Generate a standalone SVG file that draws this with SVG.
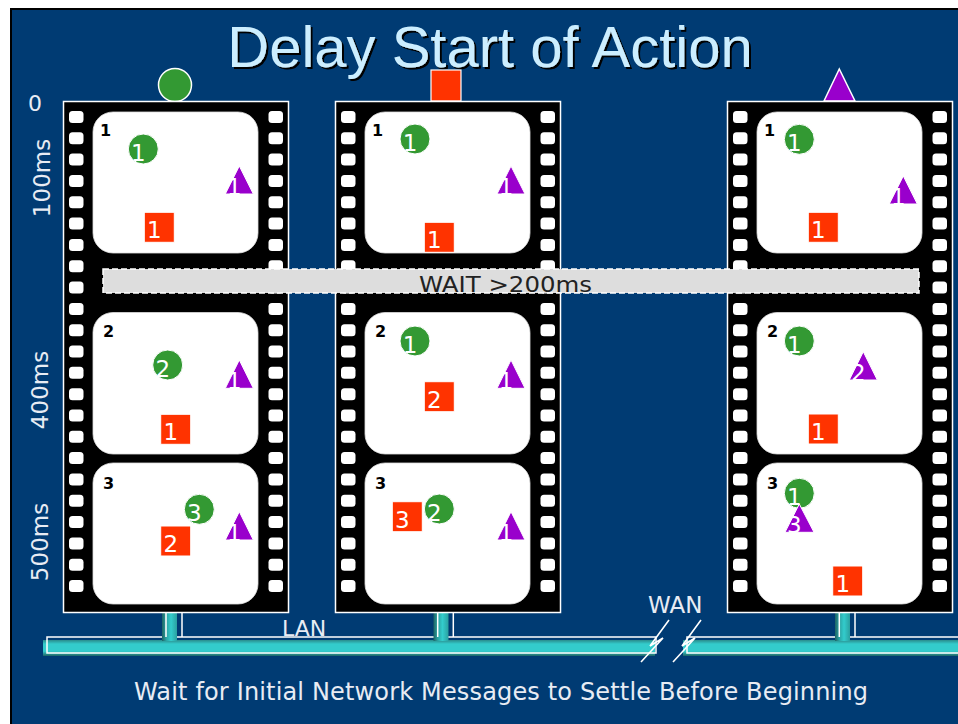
<svg xmlns="http://www.w3.org/2000/svg" xmlns:xlink="http://www.w3.org/1999/xlink" width="958" height="724" viewBox="0 0 958 724">
<style>
.lbl{font-family:"DejaVu Sans","Liberation Sans",sans-serif;fill:#E8ECF4}
.fl{font-family:"DejaVu Sans","Liberation Sans",sans-serif;font-weight:bold;font-size:16px;fill:#000}
.d{font-family:"DejaVu Sans","Liberation Sans",sans-serif;font-size:23px;fill:#fff;text-anchor:middle}
.c{fill:#339933;stroke:#fff;stroke-width:1}
.s{fill:#FF3300;stroke:#fff;stroke-width:1}
.t{fill:#9900CC;stroke:#fff;stroke-width:1}
.h{fill:#fff}
.fr{fill:#fff;stroke:#ddd;stroke-width:0.8}
.bolt{fill:none;stroke:#fff;stroke-width:1.6;stroke-linejoin:miter}
.outl{fill:none;stroke:#fff;stroke-width:1.5}
</style>
<defs>
<filter id="shadow" x="-5%" y="-10%" width="110%" height="130%">
<feDropShadow dx="2" dy="2" stdDeviation="0.4" flood-color="#000" flood-opacity="1"/>
</filter>
<linearGradient id="gh" x1="0" y1="0" x2="0" y2="1">
<stop offset="0" stop-color="#2A8C8C"/>
<stop offset="0.25" stop-color="#33CCCC"/>
<stop offset="0.7" stop-color="#33CCCC"/>
<stop offset="1" stop-color="#1E6464"/>
</linearGradient>
<linearGradient id="gv" x1="0" y1="0" x2="1" y2="0">
<stop offset="0" stop-color="#1E6464"/>
<stop offset="0.3" stop-color="#2AA5A5"/>
<stop offset="0.6" stop-color="#33CCCC"/>
<stop offset="1" stop-color="#2AA0A0"/>
</linearGradient>
<g id="holecol">
<rect class="h" x="0" y="111" width="14.5" height="12" rx="3.5"/>
<rect class="h" x="0" y="132.3" width="14.5" height="12" rx="3.5"/>
<rect class="h" x="0" y="153.6" width="14.5" height="12" rx="3.5"/>
<rect class="h" x="0" y="175" width="14.5" height="12" rx="3.5"/>
<rect class="h" x="0" y="196.3" width="14.5" height="12" rx="3.5"/>
<rect class="h" x="0" y="217.6" width="14.5" height="12" rx="3.5"/>
<rect class="h" x="0" y="238.9" width="14.5" height="12" rx="3.5"/>
<rect class="h" x="0" y="260.2" width="14.5" height="12" rx="3.5"/>
<rect class="h" x="0" y="281.6" width="14.5" height="12" rx="3.5"/>
<rect class="h" x="0" y="302.9" width="14.5" height="12" rx="3.5"/>
<rect class="h" x="0" y="324.2" width="14.5" height="12" rx="3.5"/>
<rect class="h" x="0" y="345.5" width="14.5" height="12" rx="3.5"/>
<rect class="h" x="0" y="366.8" width="14.5" height="12" rx="3.5"/>
<rect class="h" x="0" y="388.2" width="14.5" height="12" rx="3.5"/>
<rect class="h" x="0" y="409.5" width="14.5" height="12" rx="3.5"/>
<rect class="h" x="0" y="430.8" width="14.5" height="12" rx="3.5"/>
<rect class="h" x="0" y="452.1" width="14.5" height="12" rx="3.5"/>
<rect class="h" x="0" y="473.4" width="14.5" height="12" rx="3.5"/>
<rect class="h" x="0" y="494.8" width="14.5" height="12" rx="3.5"/>
<rect class="h" x="0" y="516.1" width="14.5" height="12" rx="3.5"/>
<rect class="h" x="0" y="537.4" width="14.5" height="12" rx="3.5"/>
<rect class="h" x="0" y="558.7" width="14.5" height="12" rx="3.5"/>
<rect class="h" x="0" y="580" width="14.5" height="12" rx="3.5"/>
</g>
<g id="strip">
<rect x="0" y="101.5" width="225" height="511" fill="#000" stroke="#fff" stroke-width="1.5"/>
<use xlink:href="#holecol" x="5.5"/>
<use xlink:href="#holecol" x="205"/>
<rect class="fr" x="29.5" y="112" width="165" height="141" rx="20"/>
<rect class="fr" x="29.5" y="312.5" width="165" height="141.5" rx="20"/>
<rect class="fr" x="29.5" y="463" width="165" height="141" rx="20"/>
</g>
</defs>

<rect x="0" y="0" width="958" height="724" fill="#fff"/>
<rect x="11" y="9" width="960" height="730" fill="#003B73" stroke="#000" stroke-width="2"/>

<g id="title">
<text x="490" y="67" font-family="Liberation Sans, Arial, sans-serif" font-size="58" fill="#CCEEFF" text-anchor="middle" filter="url(#shadow)">Delay Start of Action</text>
</g>

<g id="axis">
<text class="lbl" x="35" y="111" font-size="22" text-anchor="middle">0</text>
<text class="lbl" font-size="23" text-anchor="middle" transform="translate(50,178) rotate(-90)">100ms</text>
<text class="lbl" font-size="23" text-anchor="middle" transform="translate(48,390) rotate(-90)">400ms</text>
<text class="lbl" font-size="23" text-anchor="middle" transform="translate(48,542) rotate(-90)">500ms</text>
</g>

<g id="connectors">
<rect x="43" y="640" width="612" height="16" fill="url(#gh)"/>
<rect class="outl" x="47" y="637" width="609" height="16"/>
<rect x="683" y="640" width="280" height="16" fill="url(#gh)"/>
<rect class="outl" x="687" y="637" width="280" height="16"/>
<rect x="162" y="613" width="15" height="28" fill="url(#gv)"/>
<path class="outl" d="M166,613 V637 M182,613 V637"/>
<rect x="433.5" y="613" width="15" height="28" fill="url(#gv)"/>
<path class="outl" d="M437.7,613 V637 M453.3,613 V637"/>
<rect x="835" y="613" width="15" height="28" fill="url(#gv)"/>
<path class="outl" d="M839.3,613 V637 M855,613 V637"/>
<polyline class="bolt" points="669,620 650,646 663,638 641,662"/>
<polyline class="bolt" points="701,620 682,646 695,638 673,662"/>
<text class="lbl" x="282" y="636" font-size="22">LAN</text>
<text class="lbl" x="648" y="613" font-size="23">WAN</text>
</g>

<g id="marker-circle"><circle cx="175" cy="85" r="16.5" fill="#339933" stroke="#fff" stroke-width="1.5"/></g>
<g id="marker-square"><rect x="431" y="70" width="30" height="31" fill="#FF3300" stroke="#fff" stroke-width="1.2"/></g>
<g id="marker-triangle"><polygon points="839.3,69 855,101 824,101" fill="#9900CC" stroke="#fff" stroke-width="1.5"/></g>

<g id="strip1">
<use xlink:href="#strip" x="63.5"/>
<text class="fl" x="100" y="136">1</text>
<circle class="c" cx="143.3" cy="149" r="15"/><text class="d" x="138.3" y="161">1</text>
<polygon class="t" points="239.3,166 253.3,194 225.3,194"/><text class="d" x="234.3" y="195">1</text>
<rect class="s" x="144.3" y="212.3" width="30" height="30"/><text class="d" x="154.3" y="238.3">1</text>
<text class="fl" x="103" y="336.7">2</text>
<circle class="c" cx="167.7" cy="365" r="15"/><text class="d" x="162.7" y="377">2</text>
<polygon class="t" points="239.3,360 253.3,388.3 225.3,388.3"/><text class="d" x="234.3" y="389.3">1</text>
<rect class="s" x="160.7" y="414.3" width="30" height="30"/><text class="d" x="170.7" y="440.3">1</text>
<text class="fl" x="103" y="489">3</text>
<circle class="c" cx="199.3" cy="509.3" r="15"/><text class="d" x="194.3" y="521.3">3</text>
<polygon class="t" points="239.3,511.7 253.3,540 225.3,540"/><text class="d" x="234.3" y="541">1</text>
<rect class="s" x="160.7" y="526" width="30" height="30"/><text class="d" x="170.7" y="552">2</text>
</g>

<g id="strip2">
<use xlink:href="#strip" x="335.5"/>
<text class="fl" x="372" y="136">1</text>
<circle class="c" cx="415" cy="139" r="15"/><text class="d" x="410" y="151">1</text>
<polygon class="t" points="511,166 525,194 497,194"/><text class="d" x="506" y="195">1</text>
<rect class="s" x="424.3" y="222.3" width="30" height="30"/><text class="d" x="434.3" y="248.3">1</text>
<text class="fl" x="375" y="336.7">2</text>
<circle class="c" cx="415" cy="341" r="15"/><text class="d" x="410" y="353">1</text>
<polygon class="t" points="511,360 525,388.3 497,388.3"/><text class="d" x="506" y="389.3">1</text>
<rect class="s" x="424.3" y="381.7" width="30" height="30"/><text class="d" x="434.3" y="407.7">2</text>
<text class="fl" x="375" y="489">3</text>
<circle class="c" cx="439.3" cy="509" r="15"/><text class="d" x="434.3" y="521">2</text>
<polygon class="t" points="511,511.7 525,540 497,540"/><text class="d" x="506" y="541">1</text>
<rect class="s" x="392.3" y="501.7" width="30" height="30"/><text class="d" x="402.3" y="527.7">3</text>
</g>

<g id="strip3">
<use xlink:href="#strip" x="727.5"/>
<text class="fl" x="764" y="136">1</text>
<circle class="c" cx="799.3" cy="139.3" r="15"/><text class="d" x="794.3" y="151.3">1</text>
<polygon class="t" points="903.3,176 917.3,204 889.3,204"/><text class="d" x="898.3" y="205">1</text>
<rect class="s" x="808.3" y="212.3" width="30" height="30"/><text class="d" x="818.3" y="238.3">1</text>
<text class="fl" x="767" y="336.7">2</text>
<circle class="c" cx="799.3" cy="341" r="15"/><text class="d" x="794.3" y="353">1</text>
<polygon class="t" points="863.3,351.7 877.3,380 849.3,380"/><text class="d" x="858.3" y="381">2</text>
<rect class="s" x="808.3" y="414" width="30" height="30"/><text class="d" x="818.3" y="440">1</text>
<text class="fl" x="767" y="489">3</text>
<circle class="c" cx="799.3" cy="493.3" r="15"/><text class="d" x="794.3" y="505.3">1</text>
<polygon class="t" points="799.3,504 814,532.3 785,532.3"/><text class="d" x="794.3" y="533.3">3</text>
<rect class="s" x="832.7" y="566" width="30" height="30"/><text class="d" x="842.7" y="592">1</text>
</g>

<g id="wait">
<rect x="103" y="269" width="816" height="24" fill="#DDDDDD" stroke="#fff" stroke-width="1.5" stroke-dasharray="6 3"/>
<text x="419" y="292" font-family="DejaVu Sans, Liberation Sans, sans-serif" font-size="22" fill="#222" textLength="173" lengthAdjust="spacingAndGlyphs">WAIT &gt;200ms</text>
</g>

<g id="caption">
<text class="lbl" x="134" y="700" font-size="24" textLength="734" lengthAdjust="spacing">Wait for Initial Network Messages to Settle Before Beginning</text>
</g>
</svg>
